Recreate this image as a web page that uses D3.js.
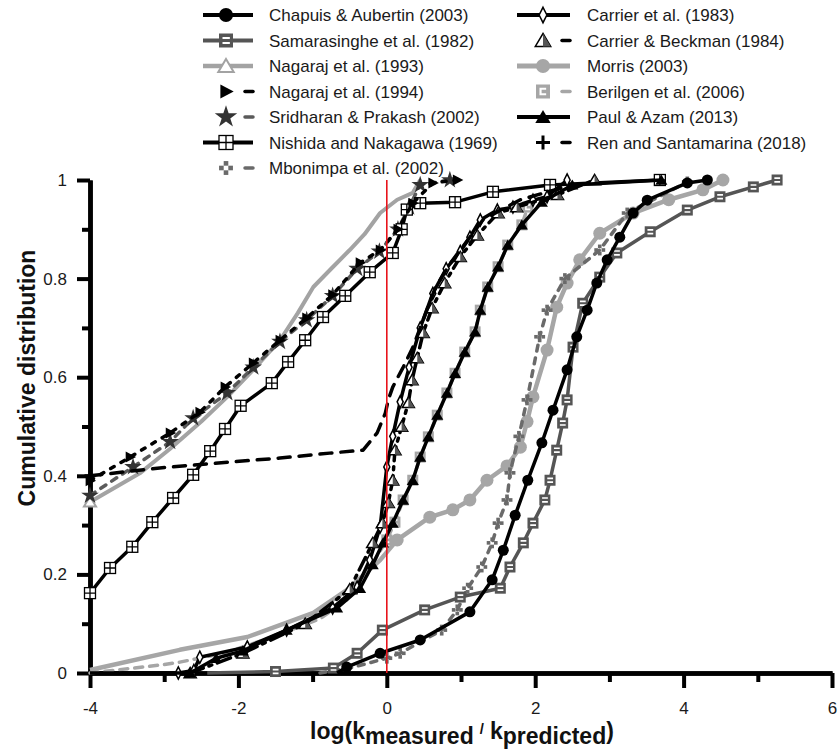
<!DOCTYPE html>
<html>
<head>
<meta charset="utf-8">
<script src="https://cdn.jsdelivr.net/npm/d3@7"></script>
<style>
  body { margin: 0; background: #fff; }
  text { font-family: "Liberation Sans", Arial, sans-serif; }
</style>
</head>
<body>
<div id="viz"></div>
<script>
// cumulative distributions: [log(kmeas/kpred), cumulative fraction]
const chapuisAubertin2003 = [[-0.67,0],[-0.54,0.012],[-0.09,0.04],[0.45,0.067],[1.12,0.124],[1.42,0.189],[1.57,0.249],[1.73,0.32],[1.90,0.391],[2.09,0.467],[2.24,0.533],[2.43,0.615],[2.56,0.682],[2.70,0.736],[2.83,0.791],[2.97,0.838],[3.14,0.884],[3.32,0.933],[3.51,0.959],[4.05,0.994],[4.32,1.0]];
const samarasinghe1982 = [[-2.42,0],[-1.5,0.003],[-0.72,0.01],[-0.40,0.04],[-0.06,0.087],[0.51,0.128],[0.99,0.154],[1.53,0.172],[1.66,0.215],[1.84,0.264],[1.97,0.304],[2.13,0.351],[2.20,0.391],[2.29,0.452],[2.37,0.507],[2.43,0.554],[2.51,0.661],[2.64,0.75],[2.87,0.803],[3.10,0.852],[3.55,0.895],[4.05,0.939],[4.49,0.966],[4.94,0.986],[5.26,1.0]];
const nagaraj1993 = [[-4,0.347],[-3.33,0.405],[-2.92,0.455],[-2.5,0.51],[-2.15,0.56],[-1.8,0.615],[-1.44,0.675],[-1.2,0.73],[-0.99,0.783],[-0.75,0.82],[-0.5,0.858],[-0.3,0.89],[-0.09,0.933],[0.14,0.96],[0.35,0.974],[0.45,1.0]];
const nagaraj1994 = [[-4,0.39],[-3.46,0.438],[-2.92,0.487],[-2.52,0.529],[-2.18,0.58],[-1.80,0.629],[-1.44,0.675],[-1.08,0.72],[-0.73,0.767],[-0.36,0.832],[-0.09,0.858],[0.15,0.9],[0.35,0.953],[0.62,0.994],[0.95,1.0]];
const sridharanPrakash2002 = [[-4,0.36],[-3.42,0.418],[-2.92,0.469],[-2.61,0.517],[-2.15,0.568],[-1.8,0.62],[-1.44,0.672],[-1.08,0.716],[-0.73,0.765],[-0.4,0.82],[-0.1,0.855],[0.15,0.9],[0.3,0.945],[0.45,0.99],[0.85,1.0]];
const nishidaNakagawa1969 = [[-4,0.162],[-3.73,0.213],[-3.43,0.256],[-3.16,0.306],[-2.88,0.355],[-2.61,0.402],[-2.38,0.45],[-2.18,0.495],[-1.97,0.542],[-1.55,0.588],[-1.33,0.631],[-1.10,0.675],[-0.86,0.722],[-0.56,0.765],[-0.23,0.813],[0.08,0.852],[0.2,0.9],[0.27,0.94],[0.45,0.953],[0.92,0.955],[1.43,0.976],[2.2,0.99],[3.68,1.0]];
const mbonimpa2002 = [[-0.9,0],[-0.5,0.01],[0,0.03],[0.18,0.04],[0.74,0.087],[0.95,0.128],[1.09,0.172],[1.28,0.215],[1.42,0.264],[1.50,0.304],[1.62,0.351],[1.66,0.406],[1.78,0.48],[1.89,0.554],[2.06,0.682],[2.16,0.736],[2.4,0.8],[2.87,0.858],[3.24,0.933],[4.05,0.996]];
const carrier1983 = [[-2.81,0],[-2.6,0.005],[-2.52,0.032],[-1.88,0.053],[-1.35,0.087],[-0.73,0.132],[-0.40,0.174],[-0.23,0.229],[-0.09,0.296],[0.0,0.418],[0.08,0.48],[0.18,0.55],[0.3,0.62],[0.45,0.7],[0.62,0.77],[0.8,0.82],[0.99,0.855],[1.12,0.884],[1.26,0.919],[1.49,0.939],[1.70,0.945],[1.97,0.959],[2.16,0.966],[2.43,1.0]];
const carrierBeckman1984 = [[-2.65,0],[-1.94,0.04],[-1.10,0.1],[-0.5,0.17],[-0.19,0.264],[-0.06,0.304],[0.02,0.345],[0.08,0.391],[0.11,0.452],[0.2,0.5],[0.29,0.548],[0.34,0.594],[0.41,0.639],[0.49,0.69],[0.61,0.74],[0.78,0.791],[0.99,0.844],[1.22,0.888],[1.50,0.933],[1.75,0.945],[2.3,0.97],[2.8,1.0]];
const morris2003 = [[-4,0.006],[-2.79,0.047],[-1.88,0.073],[-0.99,0.122],[-0.54,0.168],[-0.09,0.229],[0.14,0.27],[0.58,0.316],[0.89,0.331],[1.12,0.351],[1.35,0.391],[1.62,0.42],[1.80,0.458],[1.89,0.51],[1.97,0.56],[2.16,0.655],[2.29,0.742],[2.43,0.791],[2.60,0.838],[2.87,0.892],[3.32,0.933],[3.8,0.96],[4.26,0.98],[4.53,1.0]];
const berilgen2006 = [[-4,0],[-3.06,0.016],[-2.79,0.022],[-2.2,0.04],[-1.5,0.075],[-0.9,0.11],[-0.54,0.148],[-0.2,0.22],[0.0,0.27],[0.11,0.306],[0.22,0.351],[0.35,0.391],[0.45,0.438],[0.56,0.479],[0.68,0.523],[0.81,0.568],[0.92,0.608],[1.05,0.651],[1.19,0.692],[1.26,0.736],[1.36,0.783],[1.50,0.824],[1.63,0.868],[1.82,0.909],[1.9,0.945]];
const paulAzam2013 = [[-4,0],[-3.25,0],[-2.65,0.0],[-2.3,0.03],[-1.94,0.045],[-1.35,0.087],[-0.67,0.132],[-0.36,0.172],[-0.19,0.22],[-0.05,0.264],[0.08,0.304],[0.22,0.351],[0.35,0.391],[0.45,0.438],[0.56,0.479],[0.68,0.523],[0.81,0.568],[0.92,0.608],[1.05,0.651],[1.19,0.692],[1.26,0.736],[1.36,0.783],[1.50,0.824],[1.63,0.868],[1.82,0.909],[2.09,0.955],[2.5,0.99],[3.7,1.0]];
const renSantamarina2018 = [[-4,0.4],[-3.06,0.416],[-2.11,0.428],[-1.44,0.436],[-0.77,0.446],[-0.32,0.452],[-0.13,0.487],[-0.02,0.527],[0.02,0.554],[0.08,0.58],[0.22,0.62],[0.35,0.66],[0.5,0.72],[0.65,0.78],[0.85,0.83],[1.0,0.86],[1.3,0.92],[1.8,0.96],[2.5,0.99]];

const seriesNames = [
  "Chapuis & Aubertin (2003)", "Samarasinghe et al. (1982)", "Nagaraj et al. (1993)",
  "Nagaraj et al. (1994)", "Sridharan & Prakash (2002)", "Nishida and Nakagawa (1969)",
  "Mbonimpa et al. (2002)", "Carrier et al. (1983)", "Carrier & Beckman (1984)",
  "Morris (2003)", "Berilgen et al. (2006)", "Paul & Azam (2013)", "Ren and Santamarina (2018)"
];
const seriesValues = [
  chapuisAubertin2003, samarasinghe1982, nagaraj1993, nagaraj1994, sridharanPrakash2002,
  nishidaNakagawa1969, mbonimpa2002, carrier1983, carrierBeckman1984, morris2003,
  berilgen2006, paulAzam2013, renSantamarina2018
];
const xTicks = [-4, -2, 0, 2, 4, 6];
const xMinorTicks = [-3, -1, 1, 3, 5];
const yTicks = [0, 0.2, 0.4, 0.6, 0.8, 1];
const yMinorTicks = [0.1, 0.3, 0.5, 0.7, 0.9];

// line / marker look of each series, same order as seriesNames
const styles = [
  { color: "#000", width: 3.5, dash: null, marker: "circle", mcolor: "#000", skip: 1 },
  { color: "#555", width: 3.5, dash: null, marker: "squareLines", mcolor: "#555", skip: 1 },
  { color: "#a3a3a3", width: 4, dash: null, marker: "triOpen", mcolor: "#a3a3a3", skip: 0, every: 100 },
  { color: "#000", width: 3.5, dash: "4,8", marker: "triRight", mcolor: "#000", skip: 0 },
  { color: "#5a5a5a", width: 3.5, dash: "6,7", marker: "star", mcolor: "#333", skip: 0 },
  { color: "#000", width: 3.5, dash: null, marker: "squareCross", mcolor: "#000", skip: 0 },
  { color: "#6a6a6a", width: 3.5, dash: "6,7", marker: "checker", mcolor: "#6a6a6a", skip: 2 },
  { color: "#000", width: 3.5, dash: null, marker: "diamond", mcolor: "#000", skip: 0 },
  { color: "#000", width: 3.5, dash: "14,6,3,6", marker: "triHalf", mcolor: "#000", skip: 0 },
  { color: "#a6a6a6", width: 4.5, dash: null, marker: "circle", mcolor: "#a6a6a6", skip: 6 },
  { color: "#a6a6a6", width: 3.5, dash: "8,7", marker: "squareC", mcolor: "#a6a6a6", skip: 8 },
  { color: "#000", width: 3.5, dash: null, marker: "triangle", mcolor: "#000", skip: 2 },
  { color: "#000", width: 3.5, dash: "12,9", marker: "plus", mcolor: "#000", skip: 0, every: 20 }
];
const drawOrder = [9, 2, 10, 6, 1, 4, 0, 5, 7, 8, 11, 3, 12];

const width = 838, height = 755;
const svg = d3.select("#viz").append("svg")
  .attr("width", width).attr("height", height);

const x = d3.scaleLinear().domain([-4, 6]).range([90, 832]);
const y = d3.scaleLinear().domain([0, 1]).range([673, 180]);

function tri(s) { return `M0,${-s}L${s * 1.1},${s * 0.85}L${-s * 1.1},${s * 0.85}Z`; }

function drawMarker(g, type, s, c) {
  if (type === "circle") {
    g.append("circle").attr("r", s).attr("fill", c);
  } else if (type === "squareLines") {
    g.append("rect").attr("x", -s).attr("y", -s).attr("width", 2 * s).attr("height", 2 * s).attr("fill", c);
    g.append("path").attr("d", `M${-s * 0.5},${-s * 0.35}H${s * 0.55}M${-s * 0.5},${s * 0.35}H${s * 0.55}`)
      .attr("stroke", "#fff").attr("stroke-width", s * 0.3);
  } else if (type === "triOpen") {
    g.append("path").attr("d", tri(s)).attr("fill", "#fff").attr("stroke", c).attr("stroke-width", 2);
  } else if (type === "triRight") {
    g.append("path").attr("d", `M${s * 1.1},0L${-s * 0.8},${-s}L${-s * 0.8},${s}Z`).attr("fill", c);
  } else if (type === "star") {
    g.append("path").attr("d", d3.symbol(d3.symbolStar, s * s * 3.2)()).attr("fill", c);
  } else if (type === "squareCross") {
    g.append("rect").attr("x", -s).attr("y", -s).attr("width", 2 * s).attr("height", 2 * s)
      .attr("fill", "#fff").attr("stroke", c).attr("stroke-width", 1.3);
    g.append("path").attr("d", `M0,${-s}V${s}M${-s},0H${s}`).attr("stroke", c).attr("stroke-width", 1.3);
  } else if (type === "checker") {
    const q = s * 0.66;
    [[0, -q], [0, q], [-q, 0], [q, 0]].forEach(([dx, dy]) =>
      g.append("rect").attr("x", dx - q / 2).attr("y", dy - q / 2).attr("width", q).attr("height", q).attr("fill", c));
  } else if (type === "diamond") {
    g.append("path").attr("d", `M0,${-s * 1.1}L${s * 0.55},0L0,${s * 1.1}L${-s * 0.55},0Z`)
      .attr("fill", "#fff").attr("stroke", c).attr("stroke-width", 1.5);
  } else if (type === "triHalf") {
    g.append("path").attr("d", tri(s)).attr("fill", "#fff").attr("stroke", c).attr("stroke-width", 1.5);
    g.append("path").attr("d", `M0,${-s}L${s * 1.1},${s * 0.85}L0,${s * 0.85}Z`).attr("fill", "#555");
  } else if (type === "squareC") {
    g.append("rect").attr("x", -s).attr("y", -s).attr("width", 2 * s).attr("height", 2 * s).attr("fill", c);
    g.append("path").attr("d", `M${s * 0.45},${-s * 0.4}H${-s * 0.35}V${s * 0.4}H${s * 0.45}`)
      .attr("fill", "none").attr("stroke", "#fff").attr("stroke-width", s * 0.3);
  } else if (type === "triangle") {
    g.append("path").attr("d", tri(s)).attr("fill", c);
  } else if (type === "plus") {
    g.append("path").attr("d", `M0,${-s}V${s}M${-s},0H${s}`).attr("stroke", c).attr("stroke-width", 3);
  }
}

// axes
svg.append("g").attr("transform", "translate(90,0)")
  .call(d3.axisLeft(y).tickValues(yTicks).tickSize(13).tickSizeOuter(0).tickPadding(10).tickFormat(d => d));
svg.append("g").attr("transform", "translate(90,0)")
  .call(d3.axisLeft(y).tickValues(yMinorTicks).tickSize(8).tickSizeOuter(0).tickFormat(""));
svg.append("g").attr("transform", "translate(0,673)")
  .call(d3.axisBottom(x).tickValues(xTicks).tickSize(15).tickSizeOuter(0).tickPadding(14).tickFormat(d => d));
svg.append("g").attr("transform", "translate(0,673)")
  .call(d3.axisBottom(x).tickValues(xMinorTicks).tickSize(9).tickSizeOuter(0).tickFormat(""));

svg.selectAll(".domain").attr("stroke", "#000").attr("stroke-width", 4.5);
svg.selectAll(".tick line").attr("stroke", "#000").attr("stroke-width", 4);
svg.selectAll(".tick text").attr("font-size", 17).attr("fill", "#1a1a1a")
  .attr("font-family", "'Liberation Sans', Arial, sans-serif");

// series
const line = d3.line().x(d => x(d[0])).y(d => y(d[1]));
const plot = svg.append("g");
drawOrder.forEach(i => {
  const st = styles[i];
  const g = plot.append("g");
  g.append("path").datum(seriesValues[i])
    .attr("d", line)
    .attr("fill", "none")
    .attr("stroke", st.color)
    .attr("stroke-width", st.width)
    .attr("stroke-linejoin", "round")
    .attr("stroke-linecap", st.dash ? "round" : "butt")
    .attr("stroke-dasharray", st.dash);
  const every = st.every || 1;
  seriesValues[i].forEach((d, k) => {
    if (k < st.skip || k % every !== 0) return;
    const m = g.append("g").attr("transform", `translate(${x(d[0])},${y(d[1])})`);
    drawMarker(m, st.marker, st.marker === "circle" && i === 9 ? 6.5 : 5.5, st.mcolor);
  });
});

// reference line at log ratio 0
svg.append("line")
  .attr("x1", x(0)).attr("x2", x(0)).attr("y1", y(1)).attr("y2", y(0))
  .attr("stroke", "#e8141b").attr("stroke-width", 1.6);

// axis titles
svg.append("text")
  .attr("transform", "translate(35,378) rotate(-90)")
  .attr("text-anchor", "middle")
  .attr("font-size", 23).attr("font-weight", "bold").attr("fill", "#111")
  .text("Cumulative distribution");

const xt = svg.append("text")
  .attr("x", 462).attr("y", 739)
  .attr("text-anchor", "middle")
  .attr("font-size", 23).attr("font-weight", "bold").attr("fill", "#111");
xt.append("tspan").text("log(k");
xt.append("tspan").attr("dy", 5).text("measured");
xt.append("tspan").attr("dy", -10).attr("dx", 6).attr("font-size", 15).text("/");
xt.append("tspan").attr("dy", 5).attr("dx", 6).text("k");
xt.append("tspan").attr("dy", 5).text("predicted");
xt.append("tspan").attr("dy", -5).text(")");

// legend, two columns
const legend = svg.append("g");
seriesNames.forEach((name, i) => {
  const st = styles[i];
  const col = i < 7 ? 0 : 1;
  const row = col === 0 ? i : i - 7;
  const cy = 15 + row * 25.5;
  const lx0 = col === 0 ? 203 : 517, lx1 = col === 0 ? 253 : 570;
  const mx = col === 0 ? 226 : 543;
  const tx = col === 0 ? 269 : 587;
  const g = legend.append("g");
  if (st.dash) {
    g.append("line").attr("x1", lx1 - 8).attr("x2", lx1).attr("y1", cy).attr("y2", cy)
      .attr("stroke", st.color).attr("stroke-width", st.width).attr("stroke-linecap", "round");
  } else {
    g.append("line").attr("x1", lx0).attr("x2", lx1).attr("y1", cy).attr("y2", cy)
      .attr("stroke", st.color).attr("stroke-width", st.width + 0.5);
  }
  drawMarker(g.append("g").attr("transform", `translate(${mx},${cy})`), st.marker, 7, st.mcolor);
  g.append("text").attr("x", tx).attr("y", cy + 6)
    .attr("font-size", 17).attr("fill", "#1a1a1a").text(name);
});
</script>
</body>
</html>
